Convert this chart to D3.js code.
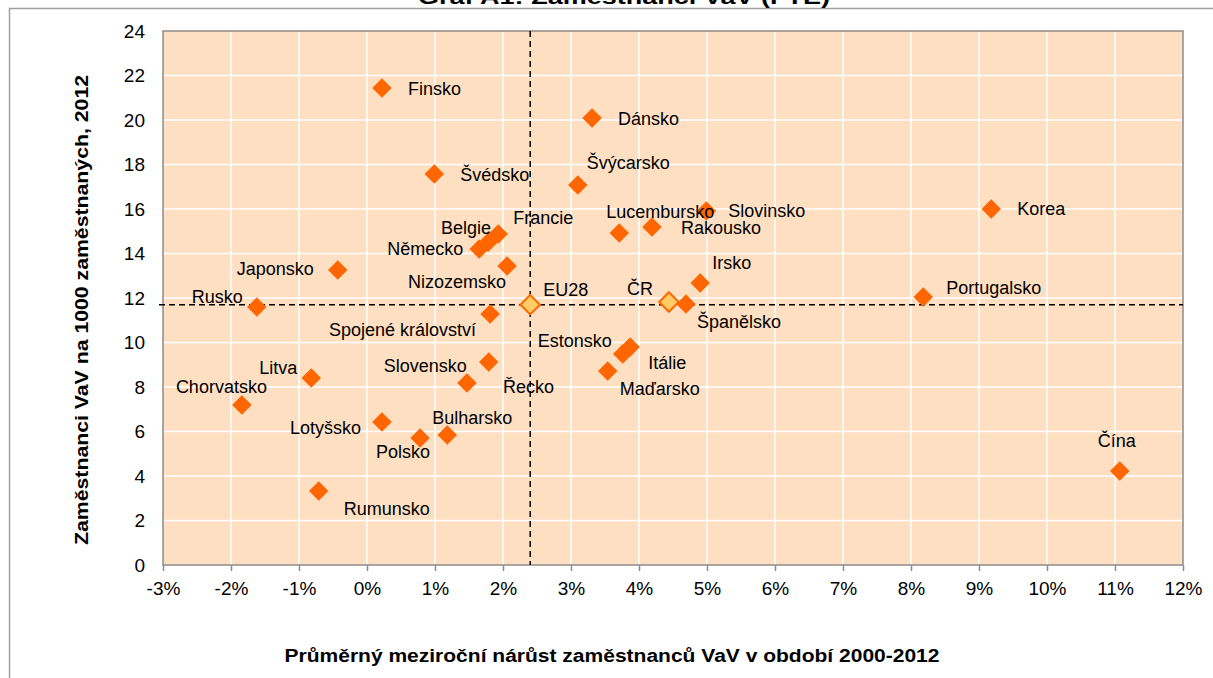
<!DOCTYPE html>
<html>
<head>
<meta charset="utf-8">
<script src="https://cdn.jsdelivr.net/npm/d3@7"></script>
<style>
  body { margin: 0; background: #fff; }
  svg { font-family: "Liberation Sans", Arial, sans-serif; }
</style>
</head>
<body>
<div id="container"></div>
<script>
const { d3 } = window;

// data
const countries = ['Finsko', 'Dánsko', 'Švýcarsko', 'Švédsko', 'Belgie', 'Francie', 'Německo', 'Nizozemsko',
  'Japonsko', 'Rusko', 'EU28', 'Spojené království', 'Lucembursko', 'Rakousko', 'Slovinsko', 'Irsko', 'ČR',
  'Španělsko', 'Korea', 'Portugalsko', 'Čína', 'Estonsko', 'Itálie', 'Maďarsko', 'Slovensko', 'Řecko',
  'Litva', 'Chorvatsko', 'Lotyšsko', 'Polsko', 'Bulharsko', 'Rumunsko'];
const growth = [0.22, 3.31, 3.10, 0.99, 1.78, 1.93, 1.65, 2.06,
  -0.43, -1.62, 2.40, 1.81, 3.71, 4.19, 4.99, 4.90, 4.44,
  4.69, 9.18, 8.18, 11.07, 3.76, 3.87, 3.54, 1.79, 1.47,
  -0.82, -1.84, 0.22, 0.78, 1.18, -0.71];
const staff = [21.44, 20.09, 17.08, 17.57, 14.5, 14.88, 14.2, 13.44,
  13.26, 11.6, 11.7, 11.28, 14.92, 15.19, 15.91, 12.67, 11.82,
  11.73, 16.0, 12.04, 4.22, 9.48, 9.8, 8.72, 9.12, 8.18,
  8.4, 7.19, 6.43, 5.71, 5.84, 3.33];
const highlighted = ['EU28', 'ČR'];
const refX = 2.4;   // EU28 growth
const refY = 11.7;  // EU28 staff
const xTicks = d3.range(-3, 13, 1);
const yTicks = d3.range(0, 26, 2);

// label placement relative to marker: [dx, dy, anchor]
const labelPos = {
  'Finsko': [26, 7, 'start'], 'Dánsko': [26, 7, 'start'], 'Švýcarsko': [9, -16, 'start'],
  'Švédsko': [26, 7, 'start'], 'Belgie': [3, -8, 'end'], 'Francie': [15, -10, 'start'],
  'Německo': [-16, 6, 'end'], 'Nizozemsko': [-1, 22, 'end'], 'Japonsko': [-24, 5, 'end'],
  'Rusko': [-14, -4, 'end'], 'EU28': [13, -9, 'start'], 'Spojené království': [-14, 22, 'end'],
  'Lucembursko': [-13, -15, 'start'], 'Rakousko': [29, 7, 'start'], 'Slovinsko': [22, 6, 'start'],
  'Irsko': [12, -14, 'start'], 'ČR': [-42, -7, 'start'], 'Španělsko': [11, 24, 'start'],
  'Korea': [26, 6, 'start'], 'Portugalsko': [23, -3, 'start'], 'Čína': [-22, -24, 'start'],
  'Estonsko': [-11, -7, 'end'], 'Itálie': [18, 22, 'start'], 'Maďarsko': [12, 24, 'start'],
  'Slovensko': [-22, 10, 'end'], 'Řecko': [36, 10, 'start'], 'Litva': [-14, -4, 'end'],
  'Chorvatsko': [-66, -12, 'start'], 'Lotyšsko': [-21, 12, 'end'], 'Polsko': [-44, 20, 'start'],
  'Bulharsko': [-15, -11, 'start'], 'Rumunsko': [25, 24, 'start']
};

const W = 1213;
const H = 678;
const plot = { left: 163, right: 1183, top: 31, bottom: 565 };

const svg = d3.select('#container').append('svg')
  .attr('width', W)
  .attr('height', H);

// outer chart frame (runs off the picture on right and bottom)
svg.append('rect')
  .attr('x', 9.5).attr('y', 8.5)
  .attr('width', W + 20).attr('height', H + 20)
  .attr('fill', '#fff')
  .attr('stroke', '#a0a0a0')
  .attr('stroke-width', 1.5);

// title sits above the frame and is cut at the top edge, as in the source
svg.append('text')
  .attr('x', 624).attr('y', 4)
  .attr('text-anchor', 'middle')
  .attr('textLength', 412)
  .attr('lengthAdjust', 'spacingAndGlyphs')
  .style('font-size', '20px')
  .style('font-weight', 'bold')
  .text('Graf A1: Zaměstnanci VaV (FTE)');

const x = d3.scaleLinear().domain([-3, 12]).range([plot.left, plot.right]);
const y = d3.scaleLinear().domain([0, 24]).range([plot.bottom, plot.top]);

svg.append('rect')
  .attr('x', plot.left).attr('y', plot.top)
  .attr('width', plot.right - plot.left).attr('height', plot.bottom - plot.top)
  .attr('fill', '#fedfc1');

// grid
svg.append('g').selectAll('line').data(xTicks.slice(1, -1)).join('line')
  .attr('x1', d => x(d)).attr('x2', d => x(d))
  .attr('y1', plot.top).attr('y2', plot.bottom)
  .attr('stroke', '#fff').attr('stroke-width', 1.5);
svg.append('g').selectAll('line').data(yTicks.slice(1, -1)).join('line')
  .attr('y1', d => y(d)).attr('y2', d => y(d))
  .attr('x1', plot.left).attr('x2', plot.right)
  .attr('stroke', '#fff').attr('stroke-width', 1.5);

svg.append('rect')
  .attr('x', plot.left).attr('y', plot.top)
  .attr('width', plot.right - plot.left).attr('height', plot.bottom - plot.top)
  .attr('fill', 'none')
  .attr('stroke', '#8c8c8c')
  .attr('stroke-width', 1.5);

// axes
const xAxis = svg.append('g')
  .attr('transform', `translate(0,${plot.bottom})`)
  .call(d3.axisBottom(x).tickValues(xTicks).tickFormat(d => `${d}%`).tickSize(6).tickPadding(11));
const yAxis = svg.append('g')
  .attr('transform', `translate(${plot.left},0)`)
  .call(d3.axisLeft(y).tickValues(yTicks).tickSize(0).tickPadding(18));
[xAxis, yAxis].forEach((g) => {
  g.select('.domain').remove();
  g.selectAll('line').attr('stroke', '#8c8c8c').attr('stroke-width', 1.5);
  g.selectAll('text')
    .attr('fill', '#000')
    .style('font-size', '19px')
    .style('font-family', '"Liberation Sans", Arial, sans-serif');
});

// reference lines through EU28
svg.append('line')
  .attr('x1', x(refX)).attr('x2', x(refX))
  .attr('y1', plot.top).attr('y2', plot.bottom)
  .attr('stroke', '#000').attr('stroke-width', 1.5)
  .attr('stroke-dasharray', '6,4');
svg.append('line')
  .attr('x1', plot.left - 4).attr('x2', plot.right)
  .attr('y1', y(refY)).attr('y2', y(refY))
  .attr('stroke', '#000').attr('stroke-width', 1.5)
  .attr('stroke-dasharray', '6,4');

const points = countries.map((name, i) => ({ name, gx: growth[i], sy: staff[i] }));

const marker = d3.symbol(d3.symbolSquare, 190);
svg.append('g').selectAll('path').data(points).join('path')
  .attr('d', marker)
  .attr('transform', d => `translate(${x(d.gx)},${y(d.sy)}) rotate(45)`)
  .attr('fill', d => (highlighted.includes(d.name) ? '#ffcc66' : '#ff6600'))
  .attr('stroke', d => (highlighted.includes(d.name) ? '#ff6600' : 'none'))
  .attr('stroke-width', 2);

svg.append('g').selectAll('text').data(points).join('text')
  .attr('x', d => x(d.gx) + labelPos[d.name][0])
  .attr('y', d => y(d.sy) + labelPos[d.name][1])
  .attr('text-anchor', d => labelPos[d.name][2])
  .style('font-size', '18px')
  .text(d => d.name);

// axis titles
svg.append('text')
  .attr('transform', `translate(88,${(plot.top + plot.bottom) / 2 + 12}) rotate(-90)`)
  .attr('text-anchor', 'middle')
  .attr('textLength', 470)
  .attr('lengthAdjust', 'spacingAndGlyphs')
  .style('font-size', '18px')
  .style('font-weight', 'bold')
  .text('Zaměstnanci VaV na 1000 zaměstnaných, 2012');

svg.append('text')
  .attr('x', 612).attr('y', 662)
  .attr('text-anchor', 'middle')
  .attr('textLength', 655)
  .attr('lengthAdjust', 'spacingAndGlyphs')
  .style('font-size', '18px')
  .style('font-weight', 'bold')
  .text('Průměrný meziroční nárůst zaměstnanců VaV v období 2000-2012');
</script>
</body>
</html>
